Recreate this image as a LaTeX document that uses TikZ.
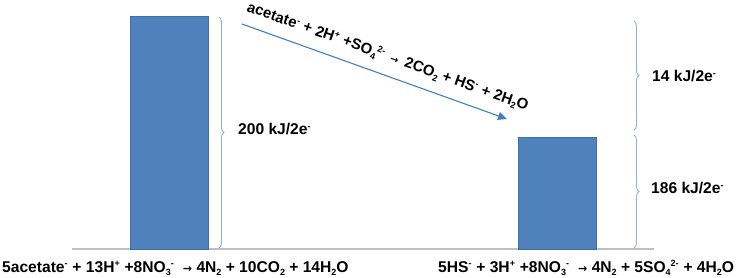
\documentclass[tikz,border=0pt]{standalone}
\usepackage{fontspec}
\setmainfont{Liberation Sans}
\usetikzlibrary{decorations.pathreplacing,arrows.meta}
\definecolor{barblue}{HTML}{4F81BD}
\definecolor{baredge}{HTML}{3F6EA8}
\definecolor{braceblue}{HTML}{8DB0DB}
\definecolor{arrowblue}{HTML}{3F7FC4}
\definecolor{basegray}{HTML}{BFBFBF}
\tikzset{
  bar/.style={fill=barblue, draw=baredge, line width=0.8pt, inner sep=0pt, anchor=north west},
  ebrace/.style={draw=braceblue, line width=0.9pt, decoration={brace, amplitude=5pt}, decorate},
  lbl/.style={font=\bfseries\fontsize{15.6}{17}\selectfont, anchor=west, inner sep=0pt},
  eqn/.style={font=\bfseries\fontsize{15.6}{17}\selectfont, anchor=base west, inner sep=0pt}
}
\newcommand{\supx}[1]{\textsuperscript{\fontsize{9}{9}\selectfont #1}}
\newcommand{\subx}[1]{\raisebox{-0.4ex}{\fontsize{9}{9}\selectfont #1}}
\newcommand{\arr}[1]{{\fontspec{DejaVu Sans}\fontsize{#1}{#1}\selectfont →}}
\begin{document}
\begin{tikzpicture}[x=1pt,y=-1pt]
\useasboundingbox (0,0) rectangle (737,278);
% baseline
\coordinate (b1) at (72,249);
\coordinate (b2) at (654,249);
\draw[basegray, line width=1.6pt] (b1) -- (b2);
% bars
\node[bar, minimum width=78pt, minimum height=233pt] (leftbar) at (130,16) {};
\node[bar, minimum width=78pt, minimum height=112pt] (rightbar) at (518,137) {};
% braces
\coordinate (lb1) at (219,17);
\coordinate (lb2) at (219,248);
\draw[ebrace] (lb1) -- (lb2);
\coordinate (rb1) at (634,21);
\coordinate (rb2) at (634,130);
\draw[ebrace] (rb1) -- (rb2);
\coordinate (rb3) at (634,135);
\coordinate (rb4) at (634,248);
\draw[ebrace] (rb3) -- (rb4);
% labels
\node[lbl] (l200) at (238,129) {200 kJ/2e\supx{-}};
\node[lbl] (l14) at (652,76) {14 kJ/2e\supx{-}};
\node[lbl] (l186) at (651,188) {186 kJ/2e\supx{-}};
% arrow
\coordinate (a1) at (242,24);
\coordinate (a2) at (507,119);
\draw[arrowblue, line width=1.1pt, -{Triangle[length=9pt,width=8pt]}] (a1) -- (a2);
\node[font=\bfseries\fontsize{15}{17}\selectfont, rotate=-19.5, anchor=base west, inner sep=0pt] (aeq) at (246,11)
  {acetate\supx{-} + 2H\supx{+} +SO\subx{4}\supx{2-} \,\arr{10}\, 2CO\subx{2} + HS\supx{-} + 2H\subx{2}O};
% equations
\node[eqn] (eq1) at (2,272) {5acetate\supx{-} + 13H\supx{+} +8NO\subx{3}\supx{-} \ \arr{11} 4N\subx{2} + 10CO\subx{2} + 14H\subx{2}O};
\node[eqn] (eq2) at (438,272) {5HS\supx{-} + 3H\supx{+} +8NO\subx{3}\supx{-} \ \arr{11} 4N\subx{2} + 5SO\subx{4}\supx{2-} + 4H\subx{2}O};
\end{tikzpicture}
\end{document}
